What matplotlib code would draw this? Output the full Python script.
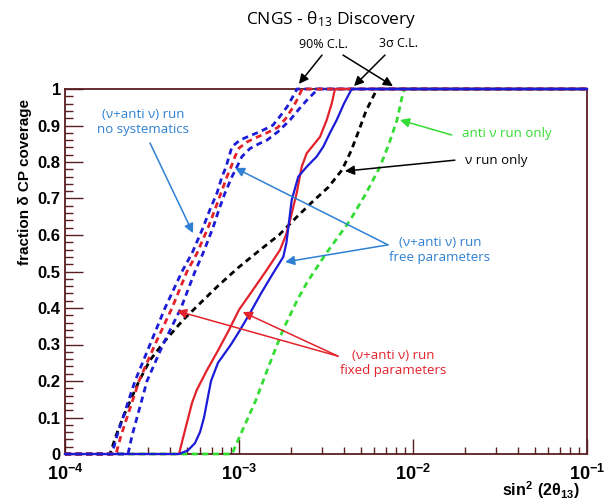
import numpy as np
import matplotlib
matplotlib.use("Agg")
import matplotlib.pyplot as plt
from matplotlib.ticker import LogLocator, MultipleLocator, FixedLocator, FuncFormatter

plt.rcParams['mathtext.fontset'] = 'custom'
plt.rcParams['mathtext.rm'] = 'Liberation Sans:bold'
plt.rcParams['mathtext.it'] = 'Liberation Sans:bold'
plt.rcParams['mathtext.bf'] = 'Liberation Sans:bold'
plt.rcParams['mathtext.sf'] = 'Open Sans'

# sin^2(2theta13) values, with the fraction of delta CP coverage
# (nu+anti nu) run, no systematics (three dashed curves)
nosys_bl_frac = [0, 0.05, 0.1, 0.15, 0.2, 0.3, 0.4, 0.5, 0.55, 0.62, 0.67, 0.715, 0.76, 0.786,
                 0.815, 0.842, 0.86, 0.872, 0.883, 0.901, 0.925, 0.951, 0.975, 1]
nosys_bl = [1.862e-4, 1.990e-4, 2.154e-4, 2.332e-4, 2.526e-4, 3.080e-4, 3.756e-4, 4.704e-4,
            5.370e-4, 6.211e-4, 6.813e-4, 7.475e-4, 7.986e-4, 8.421e-4, 8.760e-4, 9.116e-4,
            1.013e-3, 1.157e-3, 1.320e-3, 1.568e-3, 1.720e-3, 1.888e-3, 2.017e-3, 2.154e-3]

nosys_rd_frac = [0, 0.05, 0.1, 0.15, 0.2, 0.3, 0.4, 0.5, 0.55, 0.62, 0.67, 0.715, 0.76, 0.786,
                 0.815, 0.838, 0.855, 0.868, 0.88, 0.895, 0.92, 0.95, 0.975, 1]
nosys_rd = [1.963e-4, 2.098e-4, 2.271e-4, 2.460e-4, 2.663e-4, 3.290e-4, 4.121e-4, 5.024e-4,
            5.736e-4, 6.635e-4, 7.279e-4, 7.882e-4, 8.532e-4, 8.995e-4, 9.485e-4, 1.000e-3,
            1.112e-3, 1.269e-3, 1.449e-3, 1.675e-3, 1.862e-3, 2.043e-3, 2.183e-3, 2.302e-3]

nosys_br_frac = [0, 0.05, 0.1, 0.15, 0.2, 0.3, 0.4, 0.5, 0.55, 0.62, 0.67, 0.715, 0.76, 0.787,
                 0.815, 0.837, 0.85, 0.86, 0.883, 0.915, 0.945, 0.97, 1]
nosys_br = [2.302e-4, 2.427e-4, 2.593e-4, 2.771e-4, 2.960e-4, 3.658e-4, 4.642e-4, 5.586e-4,
            6.211e-4, 7.088e-4, 7.676e-4, 8.309e-4, 9.116e-4, 9.739e-4, 1.040e-3, 1.157e-3,
            1.303e-3, 1.449e-3, 1.675e-3, 1.964e-3, 2.213e-3, 2.460e-3, 2.844e-3]

# nu run only
nu_frac = [0, 0.05, 0.1, 0.15, 0.2, 0.257, 0.31, 0.367, 0.41, 0.458, 0.51, 0.559, 0.6, 0.65,
           0.69, 0.73, 0.778, 0.83, 0.88, 0.94, 1]
nu_only = [1.814e-4, 1.963e-4, 2.154e-4, 2.395e-4, 2.663e-4, 3.080e-4, 3.756e-4, 4.767e-4,
           5.891e-4, 7.475e-4, 9.869e-4, 1.320e-3, 1.698e-3, 2.154e-3, 2.628e-3, 3.247e-3,
           3.908e-3, 4.402e-3, 4.830e-3, 5.370e-3, 6.211e-3]

# anti nu run only
anti_frac = [0, 0.05, 0.148, 0.25, 0.34, 0.42, 0.47, 0.545, 0.64, 0.714, 0.787, 0.85, 0.915, 0.99, 1]
anti_only = [9.116e-4, 1.013e-3, 1.252e-3, 1.508e-3, 1.790e-3, 2.154e-3, 2.460e-3, 3.121e-3,
             4.345e-3, 5.370e-3, 6.462e-3, 7.279e-3, 8.093e-3, 8.760e-3, 8.97e-3]

# (nu+anti nu) run, fixed parameters
fixed_frac = [0, 0.047, 0.10, 0.14, 0.175, 0.23, 0.285, 0.34, 0.395, 0.45, 0.504, 0.559, 0.6,
              0.64, 0.715, 0.787, 0.824, 0.846, 0.869, 0.915, 0.96, 1]
fixed_par = [4.520e-4, 4.786e-4, 5.112e-4, 5.370e-4, 5.714e-4, 6.548e-4, 7.603e-4, 8.760e-4,
             1.000e-3, 1.204e-3, 1.443e-3, 1.720e-3, 1.862e-3, 1.964e-3, 2.146e-3, 2.293e-3,
             2.450e-3, 2.673e-3, 2.921e-3, 3.192e-3, 3.410e-3, 3.562e-3]

# (nu+anti nu) run, free parameters
free_frac = [0, 0.01, 0.03, 0.06, 0.1, 0.15, 0.2, 0.25, 0.3, 0.335, 0.386, 0.44, 0.496, 0.54,
             0.58, 0.62, 0.696, 0.76, 0.787, 0.815, 0.842, 0.88, 0.915, 0.96, 1]
free_par = [4.520e-4, 5.092e-4, 5.586e-4, 5.970e-4, 6.294e-4, 6.592e-4, 6.904e-4, 7.574e-4,
            8.995e-4, 1.000e-3, 1.157e-3, 1.338e-3, 1.574e-3, 1.797e-3, 1.875e-3, 1.920e-3,
            2.009e-3, 2.192e-3, 2.450e-3, 2.797e-3, 3.051e-3, 3.334e-3, 3.643e-3, 4.012e-3, 4.444e-3]

x_lo, x_hi = 1e-4, 1e-1

fig = plt.figure(figsize=(6.09, 5.0), dpi=100)
ax = fig.add_axes([65/609, 46/500, 522/609, 365/500])

frame = '#5a1e22'
red = '#e3222b'
blue = '#1c1cd8'
green = '#33dd33'
lblue = '#2f80d2'

def curve(xs, ys, color, ls, lw):
    xx = [x_lo] + list(xs) + [x_hi]
    yy = [0] + list(ys) + [1]
    ax.plot(xx, yy, color=color, ls=ls, lw=lw, clip_on=False, zorder=3,
            solid_joinstyle='round', dash_joinstyle='round')

dash = (0, (2.2, 1.6))
curve(anti_only, anti_frac, green, dash, 2.0)
curve(nu_only, nu_frac, 'black', dash, 2.0)
curve(nosys_br, nosys_br_frac, blue, dash, 2.0)
curve(nosys_bl, nosys_bl_frac, blue, dash, 2.0)
curve(nosys_rd, nosys_rd_frac, red, dash, 2.0)
curve(fixed_par, fixed_frac, red, '-', 1.6)
curve(free_par, free_frac, blue, '-', 1.6)

ax.set_xscale('log')
ax.set_xlim(x_lo, x_hi)
ax.set_ylim(0, 1)
for s in ax.spines.values():
    s.set_color(frame)
    s.set_linewidth(1.3)

ax.xaxis.set_major_locator(FixedLocator([1e-4, 1e-3, 1e-2, 1e-1]))
ax.xaxis.set_minor_locator(LogLocator(base=10, subs=np.arange(2, 10)))
ax.xaxis.set_major_formatter(FuncFormatter(lambda v, p: r'$10^{%d}$' % int(round(np.log10(v)))))
ax.yaxis.set_major_locator(MultipleLocator(0.1))
ax.yaxis.set_minor_locator(MultipleLocator(0.02))
ax.yaxis.set_major_formatter(FuncFormatter(lambda v, p: '%g' % round(v, 1)))
ax.tick_params(which='both', direction='in', color=frame, top=False, right=False)
ax.tick_params(axis='x', which='major', length=11, width=1, pad=7, labelsize=13)
ax.tick_params(axis='x', which='minor', length=5, width=1)
ax.tick_params(axis='y', which='major', length=13, width=1, pad=3, labelsize=12)
ax.tick_params(axis='y', which='minor', length=6, width=1)
for lab in ax.get_yticklabels():
    lab.set_fontfamily('Liberation Sans')
    lab.set_fontweight('bold')

fig.text(25/609, 1 - 182/500, 'fraction δ CP coverage', rotation=90, ha='center', va='center',
         fontsize=11, fontweight='bold', family='Liberation Sans')
fig.text(580/609, 1 - 490/500, r'$sin^{2}\ (2\theta_{13})$', ha='right', va='center', fontsize=11.5)

fig.text(331/609, 1 - 20/500, r'CNGS - $\mathsf{\theta_{13}}$ Discovery', ha='center', va='center',
         fontsize=12.5, family='Open Sans')

tfont = ['Open Sans', 'DejaVu Sans']

def note(text, xy, color, ha='center', fs=9.5):
    ax.text(xy[0], xy[1], text, color=color, ha=ha, va='center', fontsize=fs,
            family=tfont, linespacing=1.25, clip_on=False)

def arrow(tail, head, color):
    ax.annotate('', xy=head, xytext=tail, annotation_clip=False,
                arrowprops=dict(arrowstyle='-|>', color=color, lw=1.1,
                                mutation_scale=14, shrinkA=0, shrinkB=0))

note('(ν+anti ν) run\nno systematics', (2.81e-4, 0.910), lblue)
arrow((3.08e-4, 0.852), (5.44e-4, 0.605), lblue)

note('(ν+anti ν) run\nfree parameters', (1.43e-2, 0.559), lblue)
arrow((7.18e-3, 0.573), (9.48e-4, 0.784), lblue)
arrow((7.18e-3, 0.573), (1.84e-3, 0.526), lblue)

note('anti ν run only', (1.91e-2, 0.879), green, ha='left')
arrow((1.67e-2, 0.874), (8.41e-3, 0.915), green)

note('ν run only', (1.99e-2, 0.805), 'black', ha='left')
arrow((1.74e-2, 0.805), (4.06e-3, 0.775), 'black')

note('(ν+anti ν) run\nfixed parameters', (7.67e-3, 0.249), red)
arrow((3.71e-3, 0.268), (4.40e-4, 0.392), red)
arrow((3.71e-3, 0.268), (1.05e-3, 0.389), red)

note('90% C.L.', (3.04e-3, 1.121), 'black', fs=9)
note('3σ C.L.', (8.2e-3, 1.126), 'black', fs=9)
arrow((3.0e-3, 1.093), (2.21e-3, 1.014), 'black')
arrow((3.96e-3, 1.093), (7.67e-3, 1.008), 'black')
arrow((6.90e-3, 1.093), (4.58e-3, 1.008), 'black')

fig.savefig('out.png', dpi=100)
